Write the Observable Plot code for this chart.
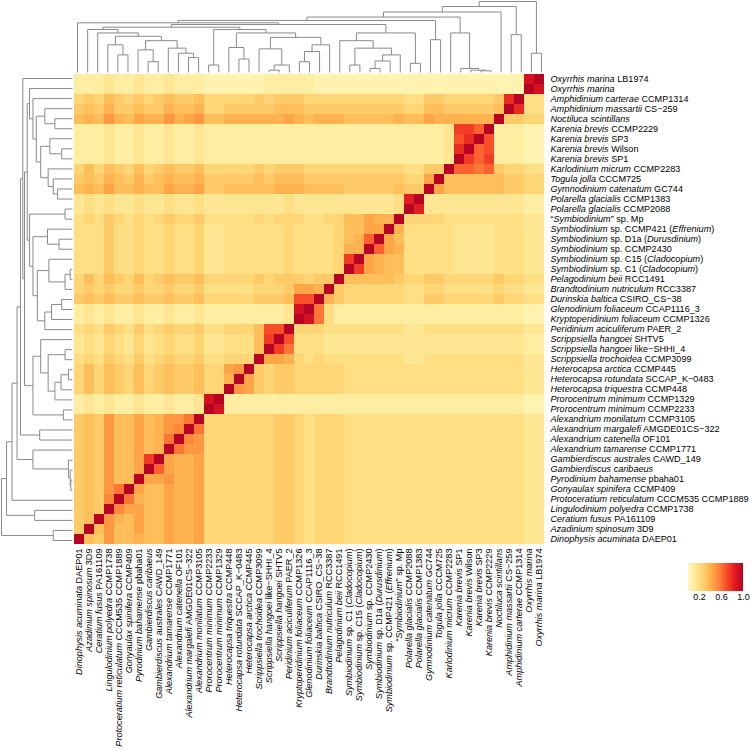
<!DOCTYPE html>
<html><head><meta charset="utf-8">
<script src="https://cdn.jsdelivr.net/npm/d3@7"></script>
<script src="https://cdn.jsdelivr.net/npm/@observablehq/plot@0.6"></script>
<style>
body{margin:0;background:#fff;}
#wrap{position:relative;width:750px;height:751px;overflow:hidden;background:#fff;}
#wrap > *{position:absolute;left:0;top:0;}
</style></head><body><div id="wrap"></div>
<script>
// species in row order (top to bottom); *...* marks italic text
const names = [
"*Oxyrrhis marina* LB1974","*Oxyrrhis marina*","*Amphidinium carterae* CCMP1314","*Amphidinium massartii* CS−259",
"*Noctiluca scintillans*","*Karenia brevis* CCMP2229","*Karenia brevis* SP3","*Karenia brevis* Wilson","*Karenia brevis* SP1",
"*Karlodinium micrum* CCMP2283","*Togula jolla* CCCM725","*Gymnodinium catenatum* GC744","*Polarella glacialis* CCMP1383",
"*Polarella glacialis* CCMP2088","“*Symbiodinium*” sp. Mp","*Symbiodinium* sp. CCMP421 (*Effrenium*)",
"*Symbiodinium* sp. D1a (*Durusdinium*)","*Symbiodinium* sp. CCMP2430","*Symbiodinium* sp. C15 (*Cladocopium*)",
"*Symbiodinium* sp. C1 (*Cladocopium*)","*Pelagodinium beii* RCC1491","*Brandtodinium nutriculum* RCC3387",
"*Durinskia baltica* CSIRO_CS−38","*Glenodinium foliaceum* CCAP1116_3","*Kryptoperidinium foliaceum* CCMP1326",
"*Peridinium aciculiferum* PAER_2","*Scrippsiella hangoei* SHTV5","*Scrippsiella hangoei* like−SHHI_4",
"*Scrippsiella trochoidea* CCMP3099","*Heterocapsa arctica* CCMP445","*Heterocapsa rotundata* SCCAP_K−0483",
"*Heterocapsa triquestra* CCMP448","*Prorocentrum minimum* CCMP1329","*Prorocentrum minimum* CCMP2233",
"*Alexandrium monilatum* CCMP3105","*Alexandrium margalefi* AMGDE01CS−322","*Alexandrium catenella* OF101",
"*Alexandrium tamarense* CCMP1771","*Gambierdiscus australes* CAWD_149","*Gambierdiscus caribaeus*",
"*Pyrodinium bahamense* pbaha01","*Gonyaulax spinifera* CCMP409","*Protoceratium reticulatum* CCCM535 CCMP1889",
"*Lingulodinium polyedra* CCMP1738","*Ceratium fusus* PA161109","*Azadinium spinosum* 3D9","*Dinophysis acuminata* DAEP01"
];

// value codes: a=0.00, b=0.05, ... u=1.00 ; one string per row, columns left to right
const codes = "abcdefghijklmnopqrstu";
const rows = [
"cccdccdccd cccbbbbbbc ccccbbbbbb bbbbbbbbbb bbbbbsu",
"cccdccdccd cccbbbbbbc ccccbbbbbb bbbbbbbbbb bbbbbus",
"fgfhgfgfgh gghfffffgf gggfffffff fffeeggfff ffgquee",
"ghgigghggi hhiffggggg hhhggggggg gggffhhggg gghuqee",
"hihkihjiik ijkhhiiiii ijihiiihhh hhihhjiiii iiuggff",
"cccdccdccd ccdccccccc cccccccccc cccccccdpp nucccbb",
"cccdccdccd ccdccccccc cccccccccc cccccccdoq uocccbb",
"cccdccdccd ccdccccccc cccccccccc cccccccdqu nocccbb",
"cccdccdccd ccdccccccc cccccccccc cccccccdup npcccbb",
"fhfhgfhfgh gghfffffgf gggfffffff fffeeggunn mngffee",
"ghgihgighi hhiggggghg hhhggggggg gggffjuhhh hhhggff",
"hihjhhihhj iijgghhhhh iiihhhhggg gghggujhhh hhhggff",
"dededdedde ddeddddddd dedddddddd dderuddddd dddddcc",
"dededdedde ddeddddddd dedddddddd ddeurddddd dddddcc",
"efegfefefg ffgeeeeefe fffeeffhhj iiuffffeee eeeeedd",
"eeegeefeef eefddeeeee efeeeefhhj juieeeeedd ddeeedd",
"eeegeefeef eefddeeeee efeeeefhin ujheeeeedd ddeeedd",
"eeegeefeef eefddeeeee efeeeefiiu njieeeeedd ddeeedd",
"eeegeefeef eefddeeeee efeeeefpuj ihheeeeedd ddeeedd",
"eeegeefeef eefddeeeee efeeeefupj ihheeeeedd ddeeedd",
"fhfhgfhfgh gghfffffgf gggfgguhhh hhgffggfff ffgffee",
"fgfgffgffg ffgeeeeeff fgjjiugfff fffeeffeee eefeedd",
"ghghgghggh gghfffffgg ghoouigfff fffeeggfff ffgffee",
"cdcdccdccd ccdccccccc cdsumecccc cccccccccc cccccbb",
"cdcdccdccd ccdccccccc cdusmecccc cccccccccc cccccbb",
"efegfegefg ffgeefffho oufffeeeee eeeddeeeee eeeeedd",
"dedfedfdef eefddeeehp uoeeeddddd dddddddddd dddddcc",
"dedfedfdef eefddeeehu pmeeeddddd dddddddddd dddddcc",
"efegfegefg ffgeefffuj jifefeeeee eeeddeeeee eeeeedd",
"fhfhgfhfgh gghffjkugf ggfffffeee eeeeeeeeee eeeeedd",
"fhfhgfhfgh gghffiujgf ggfffffeee eeeeeeeeee eeeeedd",
"fhfhgfhfgh gghffukjgf ggfffffeee eeeeeeeeee eeeeedd",
"cdcdccdccd ccdsuccccc cccccccccc cccccccccc cccccbb",
"cdcdccdccd ccdusccccc cccccccccc cccccccccc cccccbb",
"ghgkhhjhik kmufffffff ggfefffeee eeeeeeeeee eeeeedd",
"ghgkhhjhik lumfffffff ggfefffeee eeeeeeeeee eeeeedd",
"ghgkhhjhim ulkfffffff ggfefffeee eeeeeeeeee eeeeedd",
"ghgkhhjhiu mkkfffffff ggfefffeee eeeeeeeeee eeeeedd",
"ghgkhhjpuj iijfffffff ggfefffeee eeeeeeeeee eeeeedd",
"ghgkhhjunj iijfffffff ggfefffeee eeeeeeeeee eeeeedd",
"ghgkhhujjk iijfffffff ggfefffeee eeeeeeeeee eeeeedd",
"ghgkmujhhj iijfffffff ggfefffeee eeeeeeeeee eeeeedd",
"ghglumihhj iijfffffff ggfefffeee eeeeeeeeee eeeeedd",
"ghguljjhhj iijfffffff ggfefffeee eeeeeeeeee eeeeedd",
"ghukihjhhj iijfffffff ggfefffeee eeeeeeeeee eeeeedd",
"guhkhhjhhj iijfffffff ggfefffeee eeeeeeeeee eeeeedd",
"uhgkhhihhj iijfffffff ggfefffeee eeeeeeeeee eeeeedd"
];

// dendrogram: [height, left, right]; leaves are row indices
const tree = [1.00,
  [0.929,
    [0.852,
      [0.781,
        [0.733,
          [0.700, 46,
            [0.676,
              [0.638,
                [0.605, 45, [0.557, 44, [0.510, [0.390, 43, [0.248, 42, 41]],
                  [0.448, [0.319, 40, [0.152, 39, 38]], [0.343, 37, [0.271, 36, [0.210, 35, 34]]]]]]],
                [0.605, [0.105, 33, 32], [0.557, [0.352, 31, [0.190, 30, 29]],
                  [0.495, [0.333, 28, [0.105, [0.033, 27, 26], 25]], [0.390, [0.295, [0.152, 24, 23], 22], 21]]]]
              ],
              [0.557, [0.448, 20, [0.343, [0.105, 19, 18], [0.248, [0.162, [0.057, 17, 16], 15], 14]]], [0.129, 13, 12]]
            ]
          ],
          [0.462, 11, 10]
        ],
        [0.557, 9, [0.057, 8, [0.033, 7, [0.024, 6, 5]]]]
      ],
      4
    ],
    [0.533, 3, 2]
  ],
  [0.271, 1, 0]
];

const legendTicks = [0.2, 0.6, 1.0];

// ---------- build ----------
const plain = names.map(s => s.replace(/\*/g, ""));
const cols = plain.slice().reverse();
const cells = [];
rows.forEach((r, i) => {
  const s = r.replace(/ /g, "");
  for (let j = 0; j < s.length; j++) cells.push({row: plain[i], col: cols[j], v: codes.indexOf(s[j]) / 20});
});

const colorOpts = {type: "linear", domain: [0, 1], interpolate: t => d3.interpolateYlOrRd(0.04 + 0.84 * t)};
const font = "'Liberation Sans', Arial, Helvetica, sans-serif";

const heat = Plot.plot({
  width: 750, height: 751,
  marginLeft: 72, marginRight: 204, marginTop: 73, marginBottom: 206,
  style: {fontFamily: font, fontSize: "9.1px", background: "transparent", color: "#000"},
  x: {domain: cols, padding: 0, axis: "bottom", tickRotate: -90, tickSize: 0, tickPadding: 3, label: null},
  y: {domain: plain, padding: 0, axis: "right", tickSize: 0, tickPadding: 4, label: null},
  color: colorOpts,
  marks: [Plot.cell(cells, {x: "col", y: "row", fill: "v", inset: 0, shapeRendering: "crispEdges"})]
});

// italics
const byPlain = new Map(names.map(s => [s.replace(/\*/g, ""), s]));
heat.querySelectorAll("text").forEach(el => {
  const s = byPlain.get(el.textContent);
  if (!s) return;
  el.textContent = "";
  s.split("*").forEach((p, k) => {
    if (!p) return;
    const t = document.createElementNS("http://www.w3.org/2000/svg", "tspan");
    if (k % 2 === 1) t.setAttribute("font-style", "italic");
    t.textContent = p;
    el.appendChild(t);
  });
});

function walk(n, segs) {
  if (typeof n === "number") return {c: n, h: 0};
  const [h, l, r] = n;
  const a = walk(l, segs), b = walk(r, segs);
  segs.push({a1: a.c, a2: b.c, h1: h, h2: h});
  segs.push({a1: a.c, a2: a.c, h1: h, h2: a.h});
  segs.push({a1: b.c, a2: b.c, h1: h, h2: b.h});
  return {c: (a.c + b.c) / 2, h};
}
const segs = [];
walk(tree, segs);

const lineStyle = {stroke: "#8a8a8a", strokeWidth: 1};
const topDen = Plot.plot({
  width: 750, height: 73, marginLeft: 72, marginRight: 204, marginTop: 1, marginBottom: 1,
  style: {background: "transparent"},
  x: {domain: [46.5, -0.5], axis: null},
  y: {domain: [0, 1], axis: null},
  marks: [Plot.link(segs, {x1: "a1", x2: "a2", y1: "h1", y2: "h2", ...lineStyle})]
});
const leftDen = Plot.plot({
  width: 73, height: 751, marginLeft: 1, marginRight: 1, marginTop: 73, marginBottom: 206,
  style: {background: "transparent"},
  y: {domain: [-0.5, 46.5], axis: null},
  x: {domain: [1, 0], axis: null},
  marks: [Plot.link(segs, {y1: "a1", y2: "a2", x1: "h1", x2: "h2", ...lineStyle})]
});

const leg = Plot.legend({
  color: colorOpts, width: 70, height: 48, marginLeft: 10, marginRight: 5, marginTop: 3, marginBottom: 17,
  ticks: legendTicks, tickFormat: ".1f", tickSize: 0, label: null,
  style: {fontFamily: font, fontSize: "9px", background: "transparent", color: "#000"}
});
leg.querySelectorAll("line").forEach(l => l.remove());

const wrap = document.getElementById("wrap");
wrap.appendChild(heat);
wrap.appendChild(topDen);
wrap.appendChild(leftDen);
leg.style.left = "678px";
leg.style.top = "560px";
leg.style.position = "absolute";
wrap.appendChild(leg);
</script></body></html>
